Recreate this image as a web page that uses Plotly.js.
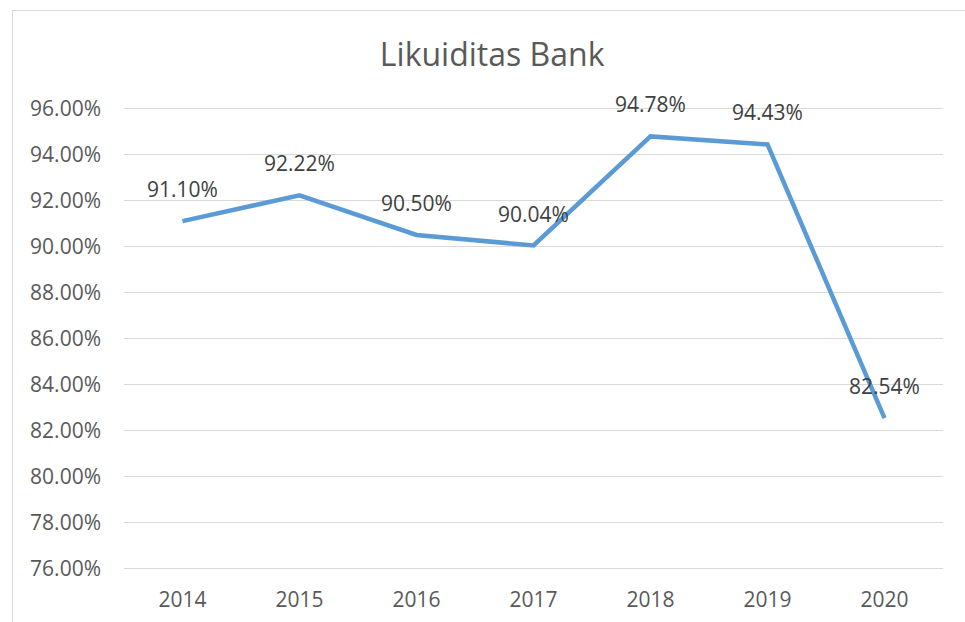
<!DOCTYPE html>
<html>
<head>
<meta charset="utf-8">
<script src="https://cdn.plot.ly/plotly-3.0.1.min.js"></script>
<style>
  html, body { margin: 0; padding: 0; width: 965px; height: 622px; overflow: hidden; background: #fff; }
  #chart { position: absolute; left: 0; top: 0; width: 965px; height: 622px; }
  #frame { position: absolute; left: 12px; top: 10px; width: 1000px; height: 700px; border: 1px solid #d9d9d9; pointer-events: none; }
</style>
</head>
<body>
<div id="chart"></div>
<div id="frame"></div>
<script>
const titleText = "Likuiditas Bank";
const years = ["2014", "2015", "2016", "2017", "2018", "2019", "2020"];
const liquidity = [91.10, 92.22, 90.50, 90.04, 94.78, 94.43, 82.54];
const yTicks = [76, 78, 80, 82, 84, 86, 88, 90, 92, 94, 96];

const font = "'Open Sans', 'Noto Sans', sans-serif";

const trace = {
  type: "scatter",
  mode: "lines",
  x: years,
  y: liquidity,
  line: { color: "#5B9BD5", width: 4.5 },
  hoverinfo: "skip"
};

const annotations = years.map((yr, i) => ({
  x: i,
  y: liquidity[i],
  xref: "x",
  yref: "y",
  text: liquidity[i].toFixed(2) + "%",
  showarrow: false,
  yshift: 32,
  font: { family: font, size: 21, color: "#404040" }
}));

const layout = {
  width: 965,
  height: 622,
  margin: { l: 124, r: 22, t: 106, b: 51 },
  paper_bgcolor: "#ffffff",
  plot_bgcolor: "#ffffff",
  showlegend: false,
  title: {
    text: titleText,
    font: { family: font, size: 32, color: "#595959" },
    x: 0.51,
    xanchor: "center",
    y: 0.912,
    yanchor: "middle"
  },
  xaxis: {
    type: "category",
    categoryarray: years,
    range: [-0.5, years.length - 0.5],
    showgrid: false,
    showline: false,
    zeroline: false,
    ticks: "",
    ticklabelstandoff: 14,
    tickfont: { family: font, size: 21, color: "#595959" }
  },
  yaxis: {
    range: [75.9, 96.1],
    tickvals: yTicks,
    ticktext: yTicks.map(v => v.toFixed(2) + "%"),
    showgrid: true,
    gridcolor: "#d9d9d9",
    gridwidth: 1.4,
    zeroline: false,
    showline: false,
    ticks: "",
    ticklabelstandoff: 22,
    tickfont: { family: font, size: 21, color: "#595959" }
  },
  annotations: annotations
};

Plotly.newPlot("chart", [trace], layout, { displayModeBar: false, staticPlot: true });
</script>
</body>
</html>
